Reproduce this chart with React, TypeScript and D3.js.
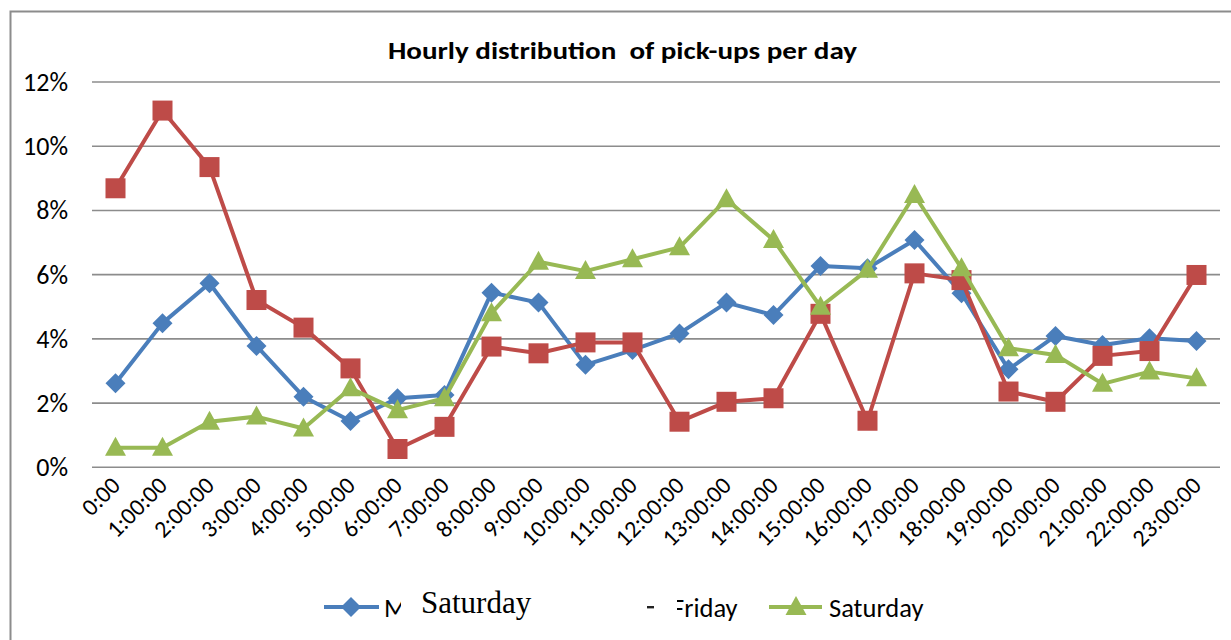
import React from 'react'
import * as d3 from 'd3'

const hours = [
  '0:00', '1:00:00', '2:00:00', '3:00:00', '4:00:00', '5:00:00', '6:00:00', '7:00:00',
  '8:00:00', '9:00:00', '10:00:00', '11:00:00', '12:00:00', '13:00:00', '14:00:00', '15:00:00',
  '16:00:00', '17:00:00', '18:00:00', '19:00:00', '20:00:00', '21:00:00', '22:00:00', '23:00:00',
]

// share of daily pick-ups, in percent
const monThu = [2.62, 4.49, 5.73, 3.78, 2.2, 1.44, 2.15, 2.25, 5.44, 5.13, 3.19, 3.65,
  4.17, 5.13, 4.74, 6.27, 6.2, 7.08, 5.42, 3.05, 4.09, 3.81, 4.02, 3.93]
const friday = [8.69, 11.11, 9.35, 5.21, 4.35, 3.08, 0.57, 1.26, 3.76, 3.55, 3.89, 3.89,
  1.42, 2.04, 2.15, 4.78, 1.45, 6.04, 5.83, 2.36, 2.04, 3.47, 3.62, 5.99]
const saturday = [0.61, 0.61, 1.42, 1.58, 1.21, 2.46, 1.78, 2.15, 4.8, 6.4, 6.11, 6.48,
  6.85, 8.35, 7.08, 5.0, 6.15, 8.48, 6.2, 3.71, 3.5, 2.6, 2.98, 2.77]

const yTicks = [0, 2, 4, 6, 8, 10, 12]

const font = "Carlito, Calibri, 'Liberation Sans', Arial, sans-serif"

const W = 1231
const H = 640

const marker = (kind, x, y, color, key) => {
  if (kind === 'diamond') {
    const r = 10
    return <path key={key} d={`M${x},${y - r}L${x + r},${y}L${x},${y + r}L${x - r},${y}Z`} fill={color} />
  }
  if (kind === 'square') {
    const s = 10
    return <rect key={key} x={x - s} y={y - s} width={s * 2} height={s * 2} fill={color} />
  }
  const hw = 10.5
  return <path key={key} d={`M${x},${y - 11}L${x + hw},${y + 8}L${x - hw},${y + 8}Z`} fill={color} />
}

export default function App() {
  const x = d3.scaleBand().domain(hours).range([92, 1220])
  const y = d3.scaleLinear().domain([0, 12]).range([467.3, 82])
  const cx = (h) => x(h) + x.bandwidth() / 2

  const line = d3.line().x((d, i) => cx(hours[i])).y(d => y(d))

  const series = [
    { name: 'Mon-Thu', values: monThu, color: '#4A7EBB', kind: 'diamond' },
    { name: 'Friday', values: friday, color: '#BE4B48', kind: 'square' },
    { name: 'Saturday', values: saturday, color: '#98B954', kind: 'triangle' },
  ]

  return (
    <div style={{ position: 'fixed', left: 0, top: 0 }}>
      <svg width={W} height={H} style={{ display: 'block', background: '#fff' }}>
        {/* chart frame */}
        <path d={`M10.5,${H + 5}V11.5H${W + 5}`} fill="none" stroke="#8c8c8c" strokeWidth={2} />

        <text x={388} y={59} fontFamily={font} fontWeight="bold" fontSize={24}
          textLength={469} lengthAdjust="spacingAndGlyphs"
          style={{ whiteSpace: 'pre' }}>Hourly distribution  of pick-ups per day</text>

        {yTicks.map(t => (
          <g key={t}>
            <line x1={92} x2={1220} y1={y(t)} y2={y(t)} stroke="#8c8c8c" strokeWidth={1.6} />
            <text x={68} y={y(t) + 9} textAnchor="end" fontFamily={font} fontSize={26} fill="#000">{t}%</text>
          </g>
        ))}

        {hours.map(h => (
          <text key={h} transform={`translate(${cx(h) + 6},${487}) rotate(-45)`} textAnchor="end"
            fontFamily={font} fontSize={24} fill="#000">{h}</text>
        ))}

        {series.map(s => (
          <g key={s.name}>
            <path d={line(s.values)} fill="none" stroke={s.color} strokeWidth={4} strokeLinejoin="round" />
            {s.values.map((v, i) => marker(s.kind, cx(hours[i]), y(v), s.color, i))}
          </g>
        ))}

        {/* legend */}
        <g>
          <line x1={324} x2={379} y1={607} y2={607} stroke={series[0].color} strokeWidth={4} />
          {marker('diamond', 351, 607, series[0].color, 'l0')}
          <text x={384} y={617} fontFamily={font} fontSize={26.5}>M</text>

          <line x1={614} x2={668} y1={607} y2={607} stroke={series[1].color} strokeWidth={4} />
          {marker('square', 641, 607, series[1].color, 'l1')}
          <text x={672} y={617} fontFamily={font} fontSize={26.5}>Friday</text>

          <line x1={769} x2={822} y1={607} y2={607} stroke={series[2].color} strokeWidth={4} />
          {marker('triangle', 796, 607, series[2].color, 'l2')}
          <text x={829} y={617} fontFamily={font} fontSize={26.5}>Saturday</text>
        </g>

        {/* pasted-over label box */}
        <rect x={401} y={588} width={276} height={40} fill="#fff" />
        <text x={421} y={613} fontFamily="'Liberation Serif', 'DejaVu Serif', serif" fontSize={31}>Saturday</text>
        <rect x={647} y={606} width={7} height={2.4} fill="#222" />
      </svg>
    </div>
  )
}
